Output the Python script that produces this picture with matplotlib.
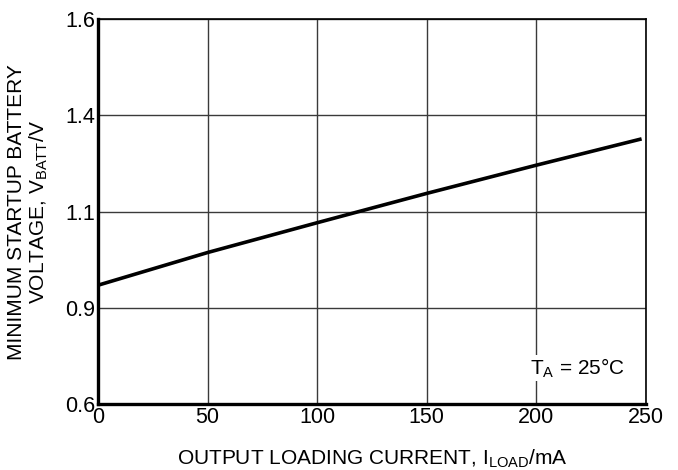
import numpy as np
import matplotlib
matplotlib.use('Agg')
import matplotlib.pyplot as plt

plt.rcParams['font.family'] = ['Liberation Sans', 'DejaVu Sans']
plt.rcParams['mathtext.default'] = 'regular'

# data
load_ma = [0, 50, 100, 150, 200, 248]
vbatt = [0.947, 1.015, 1.077, 1.157, 1.245, 1.327]

x_ticks = [0, 50, 100, 150, 200, 250]
y_ticks = [0.6, 0.9, 1.1, 1.4, 1.6]
y_tick_labels = ['0.6', '0.9', '1.1', '1.4', '1.6']

# y axis grid is evenly spaced but the labels are not: piecewise scale
grid_pos = np.arange(len(y_ticks), dtype=float)

def fwd(v):
    return np.interp(v, y_ticks, grid_pos)

def inv(u):
    return np.interp(u, grid_pos, y_ticks)

fig = plt.figure(figsize=(6.78, 4.70), dpi=100)
ax = fig.add_axes([98/678, 66/470, 548/678, 384.7/470])

ax.set_yscale('function', functions=(fwd, inv))
ax.plot(load_ma, vbatt, color='black', lw=2.6, solid_capstyle='butt')

ax.set_xlim(0, 250)
ax.set_ylim(0.6, 1.6)
ax.set_xticks(x_ticks)
ax.set_yticks(y_ticks)
ax.set_yticklabels(y_tick_labels)
ax.yaxis.set_minor_locator(matplotlib.ticker.NullLocator())
ax.tick_params(length=0, labelsize=15.5, colors='black')
ax.tick_params(axis='x', pad=2)
ax.tick_params(axis='y', pad=2)

ax.grid(True, color='#3a3a3a', lw=1.0)
ax.set_axisbelow(True)

for s in ['left', 'bottom']:
    ax.spines[s].set_linewidth(2.4)
for s in ['top', 'right']:
    ax.spines[s].set_linewidth(1.2)

ax.set_xlabel('OUTPUT LOADING CURRENT, $I_{LOAD}$/mA', fontsize=15, labelpad=14)
ax.set_ylabel('MINIMUM STARTUP BATTERY\nVOLTAGE, $V_{BATT}$/V', fontsize=15,
              labelpad=11, linespacing=1.1)

ax.text(197, 0.712, '$T_A$ = 25°C', fontsize=15, va='center', ha='left',
        bbox=dict(facecolor='white', edgecolor='none', pad=1))

fig.savefig('out.png', dpi=100)
